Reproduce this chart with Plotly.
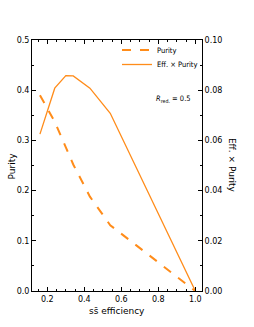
import plotly.graph_objects as go

efficiency = [0.16, 0.24, 0.30, 0.34, 0.43, 0.54, 1.0]
purity = [0.39, 0.337, 0.286, 0.252, 0.188, 0.131, 0.0]
eff_x_purity = [0.0625, 0.0808, 0.0858, 0.0857, 0.0808, 0.0708, 0.0]

orange = "#ff8c1a"
font = "DejaVu Sans"
cfont = "DejaVu Sans Condensed, DejaVu Sans"

fig = go.Figure()
fig.add_trace(go.Scatter(x=efficiency, y=purity, mode="lines", name="Purity",
                         line=dict(color=orange, width=2, dash="dash"), legend="legend"))
fig.add_trace(go.Scatter(x=efficiency, y=eff_x_purity, mode="lines", name="Eff. × Purity",
                         line=dict(color=orange, width=1.3), yaxis="y2", legend="legend2"))

axcommon = dict(showgrid=False, zeroline=False, showline=True, linecolor="black", linewidth=1,
                ticks="inside", ticklen=4, tickcolor="black", tickfont=dict(size=8, family=font, color="black"))

legcommon = dict(xanchor="left", yanchor="middle", bgcolor="rgba(0,0,0,0)",
                 font=dict(size=7.5, family=cfont), itemwidth=30)

fig.update_layout(
    width=254, height=327,
    margin=dict(l=32, r=52, t=40, b=36),
    paper_bgcolor="white", plot_bgcolor="white",
    font=dict(family=font, color="black"),
    showlegend=True,
    legend=dict(x=0.50, y=(291 - 50) / 251, **legcommon),
    legend2=dict(x=0.50, y=(291 - 64.5) / 251, **legcommon),
    xaxis=dict(range=[0.117, 1.036], tickvals=[0.2, 0.4, 0.6, 0.8, 1.0],
               ticktext=["0.2", "0.4", "0.6", "0.8", "1.0"], mirror="ticks",
               minor=dict(dtick=0.05, ticks="inside", ticklen=2, tickcolor="black"), **axcommon),
    yaxis=dict(range=[0, 0.5], tickvals=[0, 0.1, 0.2, 0.3, 0.4, 0.5],
               ticktext=["0.0", "0.1", "0.2", "0.3", "0.4", "0.5"],
               minor=dict(dtick=0.05, ticks="inside", ticklen=2, tickcolor="black"), **axcommon),
    yaxis2=dict(range=[0, 0.1], overlaying="y", side="right",
                tickvals=[0, 0.02, 0.04, 0.06, 0.08, 0.1],
                ticktext=["0.00", "0.02", "0.04", "0.06", "0.08", "0.10"],
                minor=dict(dtick=0.01, ticks="inside", ticklen=2, tickcolor="black"), **axcommon),
    annotations=[
        dict(text="<i>R</i><sub>red.</sub> = 0.5", x=0.945, y=0.794, xref="paper", yref="paper",
             showarrow=False, font=dict(size=7.5, family=cfont)),
        dict(text="Purity", x=-0.118, y=0.5, xref="paper", yref="paper", textangle=-90,
             showarrow=False, font=dict(size=9, family=font), xanchor="center"),
        dict(text="Eff. × Purity", x=1.18, y=0.5, xref="paper", yref="paper", textangle=90,
             showarrow=False, font=dict(size=9, family=font), xanchor="center"),
        dict(text="ss̄ efficiency", x=0.5, y=-0.08, xref="paper", yref="paper",
             showarrow=False, font=dict(size=9, family=font), yanchor="middle"),
    ],
)

fig.write_html("out.html", config={"displayModeBar": False},
               post_script="document.body.style.margin='0px';")
